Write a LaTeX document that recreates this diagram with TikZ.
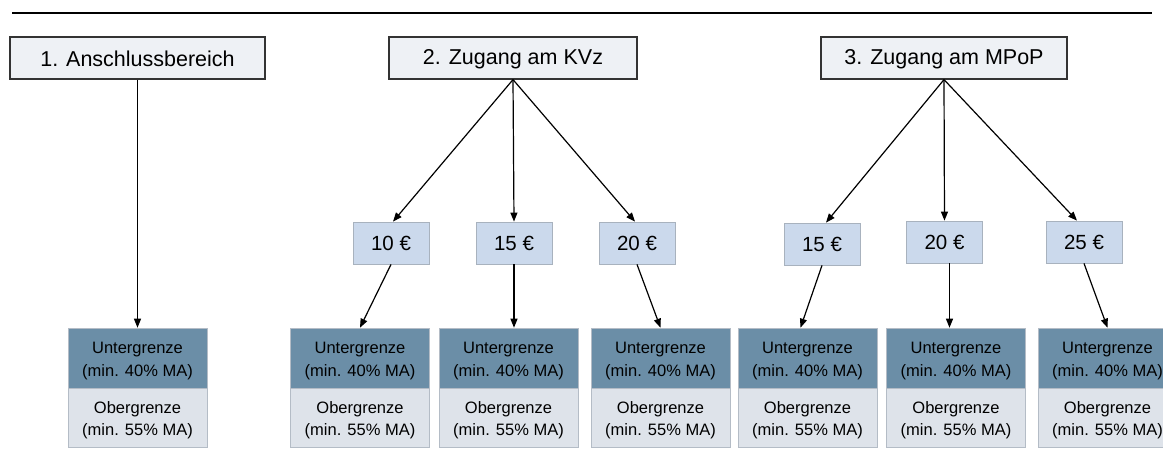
\documentclass[tikz,border=0pt]{standalone}
\usepackage{fontspec}
\setmainfont{Liberation Sans}
\usetikzlibrary{arrows.meta}
\definecolor{topfill}{HTML}{EEF1F5}
\definecolor{topdraw}{HTML}{333333}
\definecolor{eurofill}{HTML}{CBD9EC}
\definecolor{eurodraw}{HTML}{A8B2BE}
\definecolor{unterfill}{HTML}{6B8EA7}
\definecolor{oberfill}{HTML}{DEE3EA}
\definecolor{celldraw}{HTML}{B4BCC6}
\newcommand{\dropstrut}{\rule{0pt}{17.5pt}}
\tikzset{
  topbox/.style={draw=topdraw, line width=1.2pt, fill=topfill, minimum height=42pt, inner sep=0pt, font=\fontsize{21.5}{26}\selectfont},
  eurobox/.style={draw=eurodraw, line width=0.8pt, fill=eurofill, minimum width=76pt, minimum height=42pt, inner sep=0pt, font=\fontsize{20.5}{24}\selectfont},
  unterbox/.style={draw=celldraw, line width=0.6pt, fill=unterfill, minimum width=139pt, minimum height=60pt, inner sep=0pt, align=center, font=\fontsize{16.5}{22.5}\selectfont},
  oberbox/.style={draw=celldraw, line width=0.6pt, fill=oberfill, minimum width=139pt, minimum height=59pt, inner sep=0pt, align=center, font=\fontsize{16.5}{22.5}\selectfont},
  arr/.style={-{Triangle[length=9pt,width=7pt]}, line width=1.2pt, draw=black}
}
\begin{document}
\begin{tikzpicture}[x=1pt,y=-1pt]
\useasboundingbox (0,0) rectangle (1163,448);
\clip (0,0) rectangle (1163,448);
% top rule
\coordinate (ruleL) at (12,13);
\coordinate (ruleR) at (1152,13);
\draw[line width=2pt] (ruleL) -- (ruleR);
% top boxes
\node[topbox, minimum width=255pt] (t1) at (137.5,58) {\rule{0pt}{18pt}1. Anschlussbereich};
\node[topbox, minimum width=248pt] (t2) at (513,58) {\rule{0pt}{18pt}2. Zugang am KVz};
\node[topbox, minimum width=246pt] (t3) at (944,58) {\rule{0pt}{18pt}3. Zugang am MPoP};
% euro boxes
\node[eurobox] (e10a) at (391,243) {10 €};
\node[eurobox] (e15a) at (514,243) {15 €};
\node[eurobox] (e20a) at (637,243) {20 €};
\node[eurobox] (e15b) at (822,244) {15 €};
\node[eurobox] (e20b) at (944.5,242) {20 €};
\node[eurobox] (e25b) at (1084,242) {25 €};
% Unter / Ober cells
\foreach \n/\x in {1/137.5, 2/360, 3/508.5, 4/660.5, 5/807.5, 6/956, 7/1107.5}{
  \node[unterbox] (u\n) at (\x,358) {\dropstrut Untergrenze\\(min. 40\% MA)};
  \node[oberbox] (o\n) at (\x,417.5) {\dropstrut Obergrenze\\(min. 55\% MA)};
}
% connectors
\draw[arr] (t1.south) -- (u1.north);
\draw[arr] (t2.south) -- ([xshift=2pt]e10a.north);
\draw[arr] (t2.south) -- (e15a.north);
\draw[arr] (t2.south) -- ([xshift=-2pt]e20a.north);
\draw[arr] (t3.south) -- ([xshift=4pt]e15b.north);
\draw[arr] (t3.south) -- (e20b.north);
\draw[arr] (t3.south) -- ([xshift=-7pt]e25b.north);
\draw[arr] (e10a.south) -- (u2.north);
\draw[arr] (e15a.south) -- (e15a.south |- u3.north);
\draw[arr] (e20a.south) -- (u4.north);
\draw[arr] (e15b.south) -- ([xshift=-7pt]u5.north);
\draw[arr] ([xshift=5pt]e20b.south) -- ([xshift=5pt]e20b.south |- u6.north);
\draw[arr] (e25b.south) -- (u7.north);
\end{tikzpicture}
\end{document}
